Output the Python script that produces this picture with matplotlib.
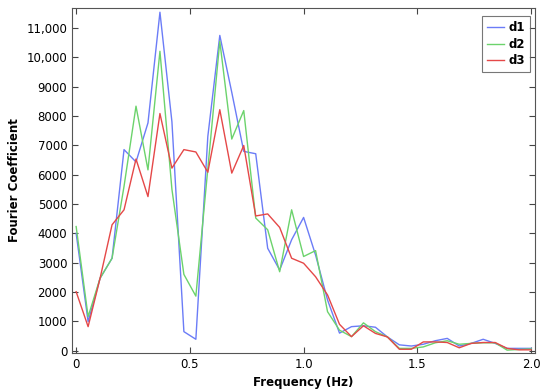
import numpy as np
import matplotlib
matplotlib.use("Agg")
import matplotlib.pyplot as plt
from matplotlib.ticker import FuncFormatter

# frequency bins (k/19 Hz, k = 0..38)
freq = np.arange(39) / 19.0

d1 = [4000, 990, 2470, 3150, 6850, 6430, 7760, 11530, 7800, 650,
      390, 7300, 10740, 8800, 6790, 6710, 3490, 2750, 3780, 4540,
      3260, 1730, 600, 820, 850, 800, 470, 200, 160, 220,
      340, 420, 160, 250, 390, 250, 80, 80, 80]
d2 = [4230, 1160, 2470, 3150, 5600, 8330, 6160, 10200, 5500, 2600,
      1860, 6200, 10540, 7210, 8180, 4520, 4120, 2690, 4800, 3210,
      3410, 1330, 700, 480, 950, 650, 470, 80, 80, 130,
      270, 340, 220, 250, 270, 270, 20, 44, 60]
d3 = [2010, 820, 2470, 4290, 4800, 6530, 5250, 8080, 6220, 6850,
      6770, 6080, 8210, 6050, 6990, 4590, 4660, 4200, 3150, 2980,
      2520, 1900, 900, 480, 850, 590, 470, 50, 50, 300,
      300, 280, 100, 250, 280, 280, 80, 30, 30]

series = {"d1": d1, "d2": d2, "d3": d3}
colors = {"d1": "#6b7cf7", "d2": "#6cd36c", "d3": "#e54848"}

fig = plt.figure(figsize=(5.5, 3.91), dpi=100)
ax = fig.add_axes([0.131, 0.097, 0.842, 0.883])

for name, vals in series.items():
    ax.plot(freq, vals, color=colors[name], lw=1.0, label=name)

ax.set_xlim(-0.018, 2.018)
ax.set_ylim(-80, 11680)
ax.set_xticks([0, 0.5, 1.0, 1.5, 2.0])
ax.set_xticklabels(["0", "0.5", "1.0", "1.5", "2.0"])
ax.set_yticks(np.arange(0, 12000, 1000))


def yfmt(v, pos):
    v = int(round(v))
    return f"{v:,}" if v >= 10000 else str(v)


ax.yaxis.set_major_formatter(FuncFormatter(yfmt))
ax.tick_params(direction="in", top=True, right=True, length=4,
               labelsize=8.5, color="#444444")
for s in ax.spines.values():
    s.set_color("#555555")

ax.set_xlabel("Frequency (Hz)", fontsize=8.5, fontweight="bold")
ax.set_ylabel("Fourier Coefficient", fontsize=8.5, fontweight="bold")

leg = ax.legend(loc="upper right", bbox_to_anchor=(0.988, 0.975),
                fancybox=False, edgecolor="#555555",
                prop={"weight": "bold", "size": 8.5}, handlelength=1.4,
                handletextpad=0.4, borderpad=0.4, borderaxespad=0.0,
                labelspacing=0.3)
leg.get_frame().set_linewidth(0.8)

fig.savefig("out.png", dpi=100)
